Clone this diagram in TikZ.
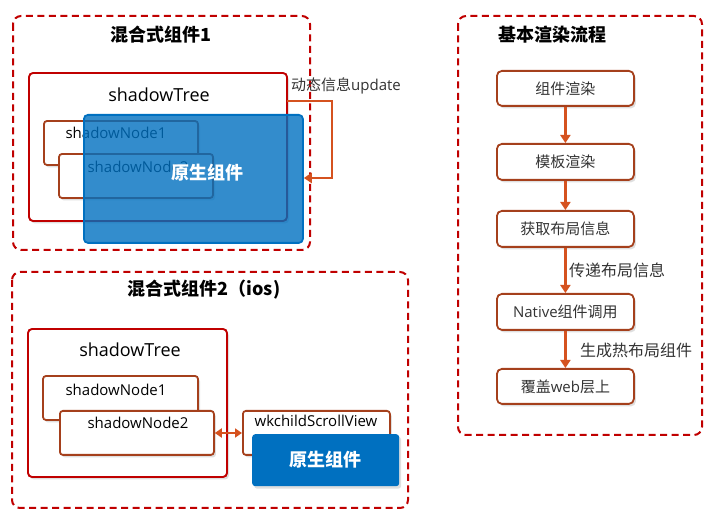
\documentclass[tikz,border=0pt]{standalone}
\usepackage{fontspec}
\setmainfont{Open Sans}
\newfontfamily\cjk{Noto Sans CJK SC}
\usetikzlibrary{shadows,arrows.meta}
\definecolor{dred}{HTML}{C00000}
\definecolor{brn}{HTML}{A5401C}
\definecolor{arr}{HTML}{D5521F}
\definecolor{nblue}{HTML}{0070C0}
\definecolor{txt}{HTML}{333333}
\begin{document}
\begin{tikzpicture}[x=1pt,y=-1pt,
  group/.style={draw=dred, line width=2pt, rounded corners=8pt, dash pattern=on 7pt off 4.5pt},
  sh/.style={drop shadow={shadow xshift=2pt, shadow yshift=-2.5pt, opacity=0.25}},
  treebox/.style={draw=dred, line width=1.9pt, rounded corners=4pt, fill=white, sh},
  nodebox/.style={draw=brn, line width=1.8pt, rounded corners=3pt, fill=white, sh},
  flowbox/.style={draw=brn, line width=1.8pt, rounded corners=5pt, fill=white, sh, font=\cjk\fontsize{15}{18}\selectfont, text=txt},
  title/.style={font=\cjk\bfseries\fontsize{18}{22}\selectfont},
  lbl/.style={font=\fontsize{15}{18}\selectfont},
  blk/.style={font=\cjk\fontsize{15}{18}\selectfont, text=txt},
  native/.style={font=\cjk\bfseries\fontsize{18}{22}\selectfont, text=white},
  link/.style={draw=arr, line width=2.8pt, -{Triangle[length=8pt,width=10pt]}},
]
\useasboundingbox (0,0) rectangle (721,529);

% ---------- Section 1 ----------
\draw[group] (13,16) rectangle (310,250);
\node[title] (t1) at (161,35) {混合式组件1};
\draw[treebox] (29,73) rectangle (287,221);
\node[lbl, font=\fontsize{18}{21}\selectfont] (tree1txt) at (159,95) {shadowTree};
\draw[nodebox] (44,121) rectangle (198,165);
\node[lbl] (sn1txt) at (116,133) {shadowNode1};
\draw[nodebox] (59,154) rectangle (213,198);
\node[lbl] (sn2txt) at (138,167) {shadowNode2};
\node[draw=nblue, line width=1.8pt, fill=nblue, fill opacity=0.8, rounded corners=4pt,
      anchor=north west, minimum width=219pt, minimum height=128pt, inner sep=0pt] (blue1) at (83,114) {};
\node[native] (nat1) at (207,173) {原生组件};
\coordinate (a1) at (332,101);
\coordinate (a2) at (332,178);
\coordinate (s1) at (287,101);
\draw[link] (s1) -- (a1) -- (a2) -- (a2 -| blue1.east);
\node[blk, anchor=west, inner sep=0pt] (upd) at (291,86) {动态信息{\fontspec{Open Sans}update}};

% ---------- Section 2 ----------
\draw[group] (12,272) rectangle (408,508);
\node[title] (t2) at (204,290) {混合式组件2（ios)};
\draw[treebox] (28,329) rectangle (227,477);
\node[lbl, font=\fontsize{18}{21}\selectfont] (tree2txt) at (130,350) {shadowTree};
\draw[nodebox] (43,376) rectangle (198,420);
\node[lbl] (sn1btxt) at (116,390) {shadowNode1};
\node[nodebox, anchor=north west, minimum width=154pt, minimum height=44pt, inner sep=0pt] (sn2b) at (59,410) {};
\node[lbl] (sn2btxt) at (138,423) {shadowNode2};
\node[nodebox, anchor=north west, minimum width=147pt, minimum height=44pt, inner sep=0pt] (wk) at (242,410) {};
\node[lbl] (wktxt) at (316,421) {wkchildScrollView};
\node[fill=nblue, rounded corners=3pt, sh, anchor=north west, minimum width=147pt, minimum height=52pt, inner sep=0pt] (blue2) at (252,434) {};
\node[native] (nat2) at (325,460) {原生组件};
\coordinate (d1) at (0,433);
\draw[draw=arr, line width=2.5pt, {Triangle[length=7pt,width=9pt]}-{Triangle[length=7pt,width=9pt]}]
  (d1 -| sn2b.east) -- (d1 -| wk.west);

% ---------- Section 3 ----------
\draw[group] (458,16) rectangle (702,435);
\node[title] (t3) at (552,35) {基本渲染流程};
\node[flowbox, anchor=north west, minimum width=137pt, minimum height=35pt, inner sep=0pt] (f1) at (496,70) {组件渲染};
\node[flowbox, anchor=north west, minimum width=137pt, minimum height=36pt, inner sep=0pt] (f2) at (496,143) {模板渲染};
\node[flowbox, anchor=north west, minimum width=137pt, minimum height=36pt, inner sep=0pt] (f3) at (496,210) {获取布局信息};
\node[flowbox, anchor=north west, minimum width=137pt, minimum height=36pt, inner sep=0pt] (f4) at (496,293) {{\fontspec{Open Sans}Native}组件调用};
\node[flowbox, anchor=north west, minimum width=137pt, minimum height=35pt, inner sep=0pt] (f5) at (496,368) {覆盖{\fontspec{Open Sans}web}层上};
\draw[link] (f1) -- (f2);
\draw[link] (f2) -- (f3);
\draw[link] (f3) -- (f4);
\draw[link] (f4) -- (f5);
\node[blk, font=\cjk\fontsize{16}{19}\selectfont, anchor=west, inner sep=0pt] (l1) at (569,270) {传递布局信息};
\node[blk, font=\cjk\fontsize{16}{19}\selectfont, anchor=west, inner sep=0pt] (l2) at (580,350) {生成热布局组件};
\end{tikzpicture}
\end{document}
